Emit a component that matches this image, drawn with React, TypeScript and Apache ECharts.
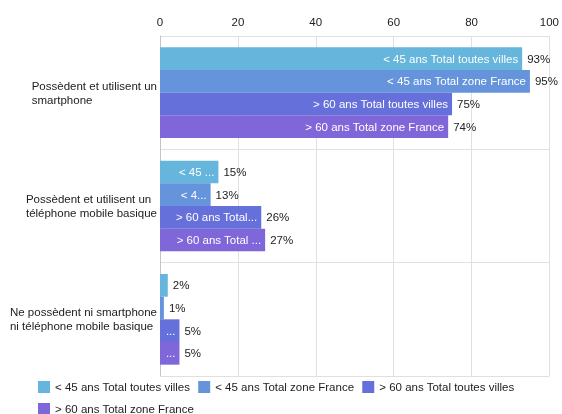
import React, { useEffect, useRef } from 'react';
import * as echarts from 'echarts';

const categories = [
  'Possèdent et utilisent un\nsmartphone',
  'Possèdent et utilisent un\ntéléphone mobile basique',
  'Ne possèdent ni smartphone\nni téléphone mobile basique',
];
const seriesNames = [
  '< 45 ans Total toutes villes',
  '< 45 ans Total zone France',
  '> 60 ans Total toutes villes',
  '> 60 ans Total zone France',
];
const under45Villes = [93, 15, 2];
const under45France = [95, 13, 1];
const over60Villes = [75, 26, 5];
const over60France = [74, 27, 5];
const xTickInterval = 20;
const xMin = 0;
const xMax = 100;

const colors = ['#66b5dc', '#6694dc', '#6670da', '#7f66d9'];

const W = 562;
const H = 414;
const GRID_LEFT = 160;
const GRID_RIGHT = 11;
const PLOT_W = W - GRID_LEFT - GRID_RIGHT;
const FONT = 'Arial, "Liberation Sans", sans-serif';
const FS = 11.5;

export default function App() {
  const ref = useRef<HTMLDivElement>(null);
  useEffect(() => {
    if (!ref.current) return;
    const chart = echarts.init(ref.current, null, { renderer: 'svg' });
    const valueSets = [under45Villes, under45France, over60Villes, over60France];
    const barSeries = valueSets.map((vals, i) => ({
      type: 'bar',
      name: seriesNames[i],
      yAxisIndex: 0,
      barGap: '0%',
      barCategoryGap: '20%',
      itemStyle: { color: colors[i] },
      label: {
        show: true,
        position: 'insideRight',
        distance: 4,
        color: '#ffffff',
        fontSize: FS,
        fontFamily: FONT,
        formatter: '{a}',
        overflow: 'truncate',
        ellipsis: '...',
      },
      data: vals.map((v) => {
        const barPx = ((v - xMin) / (xMax - xMin)) * PLOT_W;
        const w = Math.max(barPx - 18, 11);
        return { value: v, label: { show: barPx >= 15, width: w } };
      }),
    }));
    const valueSeries = valueSets.map((vals, i) => ({
      type: 'bar',
      name: 'valeur ' + i,
      yAxisIndex: 1,
      barGap: '0%',
      barCategoryGap: '20%',
      silent: true,
      itemStyle: { color: 'rgba(0,0,0,0)' },
      label: {
        show: true,
        position: 'right',
        distance: 5,
        color: '#222222',
        fontSize: FS,
        fontFamily: FONT,
        formatter: '{c}%',
      },
      data: vals,
    }));
    chart.setOption({
      animation: false,
      textStyle: { fontFamily: FONT },
      grid: { left: GRID_LEFT, right: GRID_RIGHT, top: 36, bottom: 38 },
      legend: {
        data: seriesNames,
        left: 38,
        top: 380,
        padding: 0,
        itemWidth: 12,
        itemHeight: 12,
        itemGap: 8,
        icon: 'rect',
        textStyle: { fontSize: FS, lineHeight: 14, color: '#222222', fontFamily: FONT },
      },
      xAxis: {
        type: 'value',
        position: 'top',
        min: xMin,
        max: xMax,
        interval: xTickInterval,
        axisLabel: { color: '#222222', fontSize: FS, margin: 8, fontFamily: FONT },
        axisLine: { show: false },
        axisTick: { show: false },
        splitLine: { lineStyle: { color: '#e0e0e0' } },
      },
      yAxis: [
        {
          type: 'category',
          data: categories,
          inverse: true,
          axisTick: { show: false },
          axisLine: { show: true, lineStyle: { color: '#c4c4c4' } },
          splitLine: { show: true, lineStyle: { color: '#e0e0e0' } },
          axisLabel: {
            margin: 3,
            fontSize: FS,
            color: '#222222',
            fontFamily: FONT,
            formatter: (v: string) => v.split('\n').map((l) => `{l|${l}}`).join('\n'),
            rich: { l: { align: 'left', fontSize: FS, color: '#222222', lineHeight: 14, fontFamily: FONT } },
          },
        },
        {
          type: 'category',
          data: categories,
          inverse: true,
          show: false,
        },
      ],
      series: [...barSeries, ...valueSeries],
    });
    return () => chart.dispose();
  }, []);
  return (
    <div
      ref={ref}
      style={{ position: 'fixed', left: 0, top: 0, width: W, height: H }}
    />
  );
}
